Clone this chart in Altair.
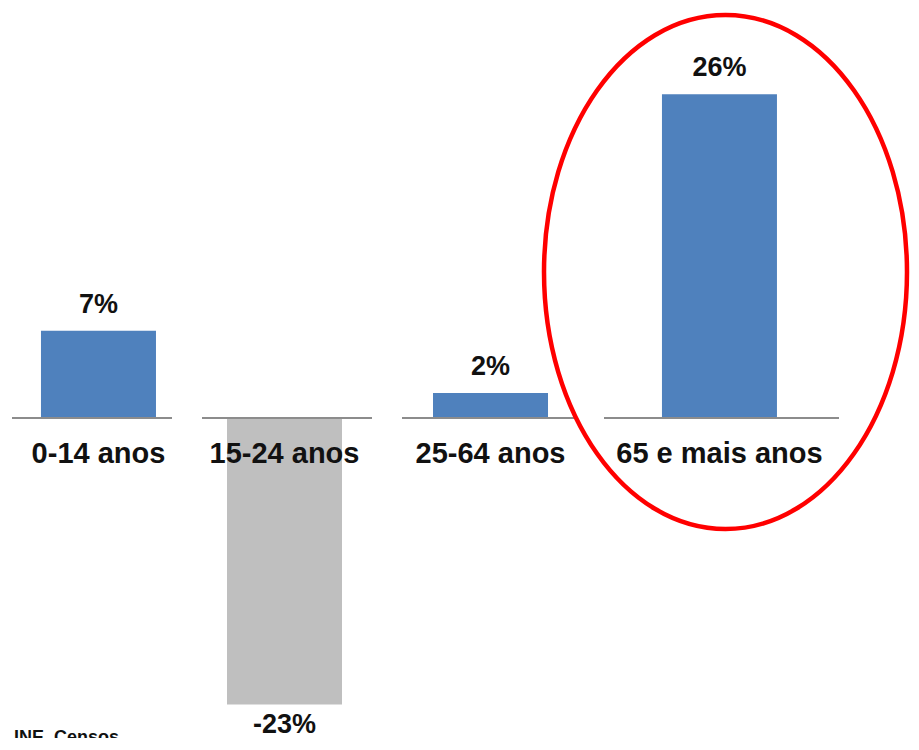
import altair as alt
import pandas as pd

# ---- data ----
categories = ["0-14 anos", "15-24 anos", "25-64 anos", "65 e mais anos"]
values = [7, -23, 2, 26]
value_labels = ["7%", "-23%", "2%", "26%"]
source_text = "Fonte: INE, Censos"
highlight = "65 e mais anos"

# ---- layout / style ----
panel_widths = [160, 170, 172, 235]
band_align = [0.644, 0.4545, 0.544, 0.483]
BAR = 115
H = 728
YDOM = [-25.70, 32.77]
FONT = "Liberation Sans, Arial, sans-serif"
BLUE = "#4F81BD"
GRAY = "#BFBFBF"
TEXT = "#111111"
# ellipse outline (unit path, aspect rx/ry)
RX, RY = 181.5, 257
K = RX / RY
ELLIPSE = f"M {-K:.4f} 0 A {K:.4f} 1 0 1 0 {K:.4f} 0 A {K:.4f} 1 0 1 0 {-K:.4f} 0 Z"


def panel(i):
    df = pd.DataFrame({"cat": [categories[i]], "v": [values[i]], "lab": [value_labels[i]]})
    W = panel_widths[i]
    po = (W / BAR - 1) / 2
    xscale = alt.Scale(paddingInner=0, paddingOuter=po, align=band_align[i])
    yscale = alt.Scale(domain=YDOM, nice=False, zero=False)
    x = alt.X("cat:N", axis=None, scale=xscale)
    y = alt.Y("v:Q", axis=None, scale=yscale)
    y0 = alt.Y(datum=0, type="quantitative", axis=None, scale=yscale)
    base = alt.Chart(df)
    bar = base.mark_bar().encode(
        x=x, y=y,
        color=alt.condition(alt.datum.v < 0, alt.value(GRAY), alt.value(BLUE)),
    )
    rule = base.mark_rule(color="#8c8c8c", strokeWidth=2).encode(y=y0)
    vlab = base.mark_text(
        font=FONT, fontSize=27, fontWeight="bold", color=TEXT, baseline="alphabetic",
        dy=(-18 if values[i] >= 0 else 29), clip=True,
    ).encode(x=x, y=y, text="lab:N")
    clab = base.mark_text(
        font=FONT, fontSize=29, fontWeight="bold", color=TEXT, baseline="alphabetic", dy=45,
    ).encode(x=x, y=y0, text="cat:N")
    layers = [bar, rule, vlab, clab]
    if categories[i] == highlight:
        ell = base.mark_point(
            shape=ELLIPSE, size=(2 * RY) ** 2, filled=False, stroke="#ff0000",
            strokeWidth=4.5, strokeJoin="round", opacity=1,
        ).encode(x=alt.value(121.5), y=alt.value(262))
        layers.append(ell)
    if i == 0:
        src = base.mark_text(
            font=FONT, fontSize=18, fontWeight="bold", color=TEXT, align="left",
            baseline="alphabetic", clip=True,
        ).encode(x=alt.value(-58), y=alt.value(733), text=alt.value(source_text))
        layers.append(src)
    return alt.layer(*layers).properties(width=W, height=H)


chart = alt.hconcat(*[panel(i) for i in range(4)], spacing=30, bounds="flush").properties(
    padding={"left": 3, "top": 2, "right": 0, "bottom": 0}
).configure_view(strokeWidth=0)

chart.save("out.html", embed_options={"renderer": "svg", "actions": False})
